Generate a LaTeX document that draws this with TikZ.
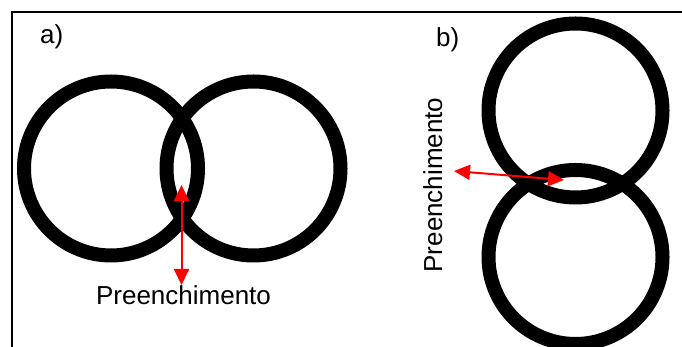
\documentclass[tikz,border=0pt]{standalone}
\usepackage{fontspec}
\setmainfont{Liberation Sans}
\usetikzlibrary{arrows.meta}
\begin{document}
\begin{tikzpicture}[x=1pt,y=1pt,
  ring/.style={draw=black,line width=14pt},
  redarrow/.style={draw=red,line width=2pt,{Triangle[length=16pt,width=15pt]}-{Triangle[length=16pt,width=15pt]}},
  lbl/.style={font=\fontsize{26}{30}\selectfont,inner sep=0pt}]
\useasboundingbox (0,0) rectangle (682,347);
\clip (0,0) rectangle (682,347);
% frame
\draw[line width=2pt] (12,-2) -- (12,335) -- (684,335);
% a) rings
\draw[ring] (111,178.5) circle[radius=87];
\draw[ring] (253.5,178.5) circle[radius=87];
% b) rings
\draw[ring] (575.5,236.5) circle[radius=87];
\draw[ring] (575.5,90) circle[radius=87];
% labels
\node[lbl,anchor=base west] (la) at (40,303) {a)};
\node[lbl,anchor=base west] (lb) at (436,300) {b)};
\node[lbl,anchor=base] (ta) at (183.5,42) {Preenchimento};
\node[lbl,anchor=base,rotate=90] (tb) at (442,162) {Preenchimento};
% arrows
\coordinate (a1) at (181.5,162);
\coordinate (a2) at (181.5,62);
\coordinate (b1) at (454,176);
\coordinate (b2) at (564,167);
\draw[redarrow] (a1) -- (a2);
\draw[redarrow] (b1) -- (b2);
\end{tikzpicture}
\end{document}
